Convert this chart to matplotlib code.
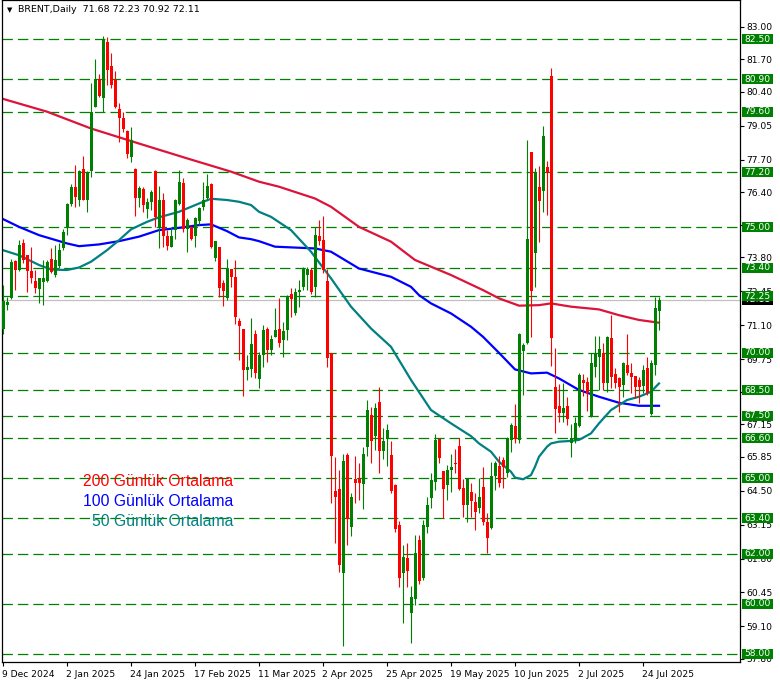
import matplotlib
matplotlib.use("Agg")
import matplotlib.pyplot as plt
import matplotlib.transforms as mtransforms
from matplotlib.patches import Rectangle

# daily OHLC, 9 Dec 2024 .. 29 Jul 2025
opens = [70.95, 71.90, 72.17, 73.66, 73.30, 74.39, 73.88, 73.26, 72.85, 72.53,
         72.83, 72.87, 73.72, 73.10, 73.46, 74.16, 74.96, 75.95, 76.59, 76.11,
         77.31, 76.11, 77.26, 79.81, 80.93, 80.16, 82.37, 81.43, 80.89, 79.71,
         79.34, 78.84, 77.81, 77.32, 76.15, 76.53, 75.73, 76.02, 77.24, 75.02,
         76.11, 74.67, 74.23, 74.89, 75.93, 76.78, 74.92, 75.02, 74.65, 75.25,
         75.82, 76.15, 76.71, 73.76, 74.20, 72.77, 72.17, 73.36, 73.03, 71.27,
         70.95, 69.31, 69.34, 70.75, 68.96, 69.91, 70.95, 70.11, 70.64, 70.95,
         70.51, 70.91, 72.33, 71.60, 72.43, 72.63, 73.10, 73.30, 72.63, 74.65,
         74.49, 72.86, 69.98, 64.49, 64.56, 61.21, 65.93, 63.07, 64.96, 64.96,
         64.76, 66.26, 67.52, 66.68, 68.05, 66.10, 66.55, 65.93, 64.73, 63.14,
         61.24, 61.84, 59.65, 60.18, 62.54, 61.01, 63.07, 64.20, 64.86, 66.55,
         65.29, 64.73, 65.33, 65.62, 66.28, 64.60, 63.93, 64.47, 64.07, 63.80,
         64.67, 63.27, 63.00, 65.09, 65.49, 65.73, 65.20, 66.53, 67.08, 66.53,
         70.08, 70.38, 78.01, 73.96, 76.62, 76.46, 77.42, 81.03, 68.65, 67.88,
         67.61, 67.88, 66.42, 66.52, 67.08, 68.91, 68.85, 67.48, 69.42, 69.85,
         69.98, 68.78, 70.60, 69.15, 68.98, 68.72, 69.51, 69.18, 69.07, 68.91,
         68.68, 69.38, 67.56, 69.51, 71.68]
highs = [72.70, 72.24, 73.72, 73.70, 74.49, 74.53, 73.88, 74.23, 73.30, 72.97,
         73.70, 73.70, 74.16, 74.29, 74.36, 74.92, 75.98, 76.72, 77.48, 77.28,
         77.85, 77.26, 80.74, 81.69, 81.13, 82.62, 82.57, 81.93, 81.24, 79.94,
         79.61, 78.88, 78.98, 77.35, 76.66, 76.62, 76.15, 76.49, 77.28, 76.64,
         76.35, 74.89, 75.02, 76.13, 77.28, 76.95, 75.36, 75.05, 75.40, 75.82,
         76.82, 77.12, 76.75, 74.47, 74.23, 72.90, 73.72, 73.36, 73.70, 71.37,
         70.95, 69.91, 71.37, 70.91, 70.04, 71.11, 71.04, 70.73, 71.77, 72.17,
         71.24, 72.30, 72.57, 72.57, 72.90, 73.43, 73.43, 73.40, 75.02, 75.29,
         75.45, 73.36, 70.00, 65.86, 65.33, 65.95, 66.02, 64.40, 65.89, 65.60,
         66.26, 68.12, 67.85, 68.01, 68.65, 66.99, 67.16, 66.48, 64.77, 63.30,
         62.34, 62.41, 60.71, 62.74, 62.74, 63.34, 64.27, 65.20, 66.75, 66.55,
         65.29, 65.53, 65.97, 66.15, 66.62, 64.99, 64.99, 64.83, 64.40, 65.03,
         65.46, 63.60, 65.66, 65.68, 65.89, 65.86, 66.66, 67.19, 67.96, 70.80,
         70.38, 78.48, 78.01, 77.35, 77.44, 79.04, 77.65, 81.37, 70.18, 68.76,
         68.81, 68.25, 67.16, 67.46, 69.18, 69.15, 69.02, 69.98, 70.67, 70.67,
         70.40, 70.67, 71.51, 69.38, 69.02, 69.65, 70.75, 69.58, 69.07, 69.05,
         69.51, 69.85, 69.71, 72.21, 72.23]
lows = [70.75, 71.70, 72.13, 72.50, 73.27, 73.56, 72.43, 72.77, 72.37, 71.97,
        71.90, 72.83, 73.17, 73.03, 73.40, 74.09, 74.69, 75.85, 75.82, 75.86,
        76.09, 75.62, 77.02, 79.78, 80.20, 79.61, 80.67, 80.54, 79.74, 78.41,
        78.81, 77.75, 77.61, 75.45, 75.82, 75.62, 75.36, 75.69, 75.00, 74.16,
        74.23, 74.09, 74.23, 74.52, 75.89, 74.82, 74.03, 74.49, 74.23, 75.09,
        75.69, 76.09, 74.16, 73.67, 72.24, 71.86, 72.10, 72.63, 71.13, 69.71,
        68.28, 68.92, 69.05, 68.98, 68.58, 69.45, 69.65, 69.91, 70.64, 70.24,
        69.84, 70.51, 71.44, 71.51, 71.84, 72.50, 72.50, 72.34, 72.24, 74.29,
        73.17, 69.45, 64.00, 62.41, 61.28, 58.33, 62.34, 62.70, 64.00, 64.13,
        63.76, 65.89, 65.62, 66.13, 65.22, 65.75, 65.49, 64.40, 62.87, 60.68,
        59.25, 60.66, 58.45, 59.95, 60.79, 60.95, 62.81, 63.80, 64.53, 65.62,
        63.40, 64.14, 64.47, 65.20, 64.53, 63.47, 63.27, 63.47, 62.94, 63.60,
        63.14, 62.04, 62.97, 64.53, 64.67, 64.60, 65.06, 66.06, 66.39, 66.42,
        68.32, 70.34, 70.64, 72.63, 74.43, 75.62, 75.49, 69.47, 66.79, 67.26,
        67.26, 67.12, 65.86, 66.39, 67.06, 68.28, 67.69, 67.45, 69.02, 68.52,
        68.52, 68.45, 68.58, 68.58, 67.65, 68.23, 69.12, 68.38, 68.19, 67.99,
        68.38, 68.32, 67.52, 69.12, 70.92]
closes = [72.05, 72.04, 73.60, 73.32, 74.29, 73.70, 73.27, 72.97, 72.57, 72.97,
          72.99, 73.60, 73.23, 73.70, 74.09, 74.82, 75.93, 76.59, 76.22, 77.26,
          76.11, 77.18, 79.58, 80.93, 80.24, 82.49, 81.29, 80.67, 79.81, 79.37,
          78.92, 77.91, 78.48, 76.15, 76.58, 75.89, 76.02, 76.39, 75.40, 76.09,
          74.67, 74.25, 74.65, 76.09, 76.79, 74.92, 75.29, 74.53, 75.36, 75.76,
          76.09, 76.66, 74.23, 74.45, 72.57, 72.47, 73.36, 73.03, 71.44, 71.08,
          69.31, 69.45, 70.35, 69.19, 69.91, 70.91, 70.11, 70.55, 70.91, 70.38,
          70.87, 72.26, 72.14, 72.43, 72.50, 73.33, 73.36, 72.43, 74.69, 74.45,
          73.30, 69.80, 65.89, 64.27, 61.55, 65.69, 63.37, 64.27, 64.80, 64.80,
          65.97, 67.72, 66.50, 67.79, 66.10, 66.50, 66.92, 64.51, 62.97, 61.01,
          61.88, 61.32, 60.28, 62.01, 60.92, 63.14, 63.94, 64.93, 66.52, 65.79,
          64.56, 65.33, 65.46, 65.56, 64.56, 63.93, 64.97, 64.11, 63.67, 64.24,
          63.27, 62.63, 65.09, 65.62, 64.83, 65.44, 66.59, 67.12, 66.55, 70.75,
          70.31, 74.53, 72.47, 77.22, 76.06, 78.64, 77.18, 70.60, 67.75, 67.61,
          67.79, 67.35, 66.62, 67.19, 69.11, 68.78, 68.41, 69.60, 69.98, 70.14,
          68.81, 70.64, 69.05, 68.81, 68.65, 69.58, 69.21, 69.02, 68.62, 68.62,
          69.32, 68.38, 69.61, 71.80, 72.11]

# moving averages sampled at bar numbers
ma200_bars = [0, 11, 22, 34, 46, 57, 64, 69, 78, 82, 89, 97, 103, 112, 120, 124,
              129, 134, 137, 142, 149, 154, 159, 164]
ma200_vals = [80.12, 79.61, 78.94, 78.34, 77.75, 77.22, 76.82, 76.62, 76.15, 75.82,
              75.02, 74.43, 73.70, 73.10, 72.50, 72.17, 71.88, 71.90, 71.97, 71.84,
              71.73, 71.50, 71.31, 71.20]
ma100_bars = [0, 4, 9, 16, 19, 24, 29, 34, 39, 44, 49, 52, 56, 59, 62, 64, 68, 78,
              82, 89, 97, 102, 104, 107, 112, 117, 120, 124, 128, 132, 136, 139,
              144, 149, 154, 159, 164]
ma100_vals = [75.33, 75.02, 74.69, 74.36, 74.25, 74.32, 74.45, 74.63, 74.89, 74.98,
              75.09, 75.12, 74.85, 74.60, 74.53, 74.45, 74.23, 74.16, 74.03, 73.36,
              73.03, 72.63, 72.30, 71.97, 71.57, 71.04, 70.64, 70.00, 69.34, 69.18,
              69.21, 68.98, 68.52, 68.25, 68.01, 67.89, 67.89]
ma50_bars = [0, 4, 9, 12, 16, 19, 22, 26, 29, 32, 36, 39, 44, 49, 52, 56, 59, 62,
             64, 67, 72, 77, 82, 87, 92, 97, 102, 107, 112, 117, 119, 122, 124,
             127, 128, 130, 132, 133, 134, 136, 137, 139, 142, 144, 147, 149, 152,
             156, 159, 162, 164]
ma50_vals = [74.09, 73.89, 73.50, 73.32, 73.30, 73.40, 73.63, 74.09, 74.49, 74.92,
             75.22, 75.40, 75.62, 75.95, 76.14, 76.09, 76.02, 75.89, 75.62, 75.42,
             74.89, 74.03, 72.97, 71.84, 70.97, 70.24, 68.92, 67.72, 67.19, 66.68,
             66.39, 66.06, 65.66, 65.26, 65.03, 64.96, 65.13, 65.46, 65.86, 66.26,
             66.39, 66.46, 66.49, 66.53, 66.79, 67.19, 67.72, 68.12, 68.25, 68.45,
             68.78]

level_lines = [82.50, 80.90, 79.60, 77.20, 75.00, 73.40, 72.25, 70.00, 68.50,
               67.50, 66.60, 65.00, 63.40, 62.00, 60.00, 58.00]
price_ticks = [83.00, 81.70, 80.40, 79.05, 77.70, 76.40, 75.10, 73.80, 72.45, 71.10,
               69.75, 68.45, 67.15, 65.85, 64.50, 63.15, 61.80, 60.45, 59.10, 57.80]
hidden_ticks = [75.10, 68.45]  # fully covered by the level boxes
date_labels = ["9 Dec 2024", "2 Jan 2025", "24 Jan 2025", "17 Feb 2025",
               "11 Mar 2025", "2 Apr 2025", "25 Apr 2025", "19 May 2025",
               "10 Jun 2025", "2 Jul 2025", "24 Jul 2025"]
last_price = 72.11
header = "BRENT,Daily  71.68 72.23 70.92 72.11"
legend_items = [("200 Günlük Ortalama", "#ff0000"),
                ("100 Günlük Ortalama", "#0000ff"),
                ("50 Günlük Ortalama", "#008080")]

UP, DOWN, LVL = "#008000", "#ff0000", "#008000"
W, H = 780, 684
plt.rcParams["font.family"] = ["DejaVu Sans"]
plt.rcParams["lines.scale_dashes"] = False

fig = plt.figure(figsize=(W / 100, H / 100), dpi=100)
ax = fig.add_axes([2 / W, 22 / H, 738 / W, 662 / H])
ax.set_xlim(-0.25, 184.25)
ax.set_ylim(57.68, 84.06)

for lvl in level_lines:
    ax.axhline(lvl, color=LVL, lw=0.9, ls=(0, (7.5, 3.6)), zorder=1)
ax.axhline(last_price, color="#c0c0c0", lw=0.9, zorder=1)

xs = list(range(len(opens)))
cols = [UP if c >= o else DOWN for o, c in zip(opens, closes)]
ax.vlines(xs, lows, highs, colors=cols, lw=0.8, zorder=3)
bottoms = [min(o, c) for o, c in zip(opens, closes)]
heights = [max(abs(c - o), 0.05) for o, c in zip(opens, closes)]
ax.bar(xs, heights, bottom=bottoms, width=0.75, color=cols, linewidth=0, zorder=4)

ax.plot(ma200_bars, ma200_vals, color="#dc143c", lw=1.6, zorder=2)
ax.plot(ma100_bars, ma100_vals, color="#0000ff", lw=1.6, zorder=2)
ax.plot(ma50_bars, ma50_vals, color="#008080", lw=1.6, zorder=2)

# axes styling
for s in ax.spines.values():
    s.set_color("black")
    s.set_linewidth(0.9)
ax.yaxis.tick_right()
ax.set_yticks(price_ticks)
ax.set_yticklabels(["" if v in hidden_ticks else f"{v:.2f}" for v in price_ticks])
ax.tick_params(axis="y", direction="out", length=3, width=0.8, pad=1.5,
               labelsize=6.6, colors="black")
ax.set_xticks(range(0, 16 * len(date_labels), 16))
ax.set_xticklabels(date_labels)
ax.tick_params(axis="x", direction="out", length=3, width=0.8, pad=2.5,
               labelsize=6.6, colors="black")
shift = mtransforms.ScaledTranslation(-1.5 / 100, 0, fig.dpi_scale_trans)
for lab in ax.get_xticklabels():
    lab.set_horizontalalignment("left")
    lab.set_transform(lab.get_transform() + shift)

# price labels at the right
tr = mtransforms.blended_transform_factory(ax.transAxes, ax.transData)
bx, bw, bh = 1 + 2 / 738, 31 / 738, 10 / 25.1
ax.add_patch(Rectangle((bx, last_price - bh / 2), bw, bh, transform=tr,
                       facecolor="black", edgecolor="none", clip_on=False, zorder=5))
ax.text(bx + bw / 2, last_price, f"{last_price:.2f}", transform=tr, color="white",
        fontsize=6.6, ha="center", va="center", clip_on=False, zorder=6)
for lvl in level_lines:
    ax.add_patch(Rectangle((bx, lvl - bh / 2), bw, bh, transform=tr,
                           facecolor=LVL, edgecolor="none", clip_on=False, zorder=7))
    ax.text(bx + bw / 2, lvl, f"{lvl:.2f}", transform=tr, color="white",
            fontsize=6.6, ha="center", va="center", clip_on=False, zorder=8)

# header and legend text
fig.text(7 / W, 1 - 10 / H, "\u25bc", fontsize=5, va="center", color="black")
fig.text(18 / W, 1 - 10 / H, header, fontsize=6.8, va="center", color="black")
for k, (txt, c) in enumerate(legend_items):
    fig.text(233 / W, 1 - (482 + 19.5 * k) / H, txt, fontsize=11.3, color=c,
             ha="right", va="center", family="Liberation Sans", zorder=10)

fig.savefig("out.png", dpi=100, facecolor="white")
